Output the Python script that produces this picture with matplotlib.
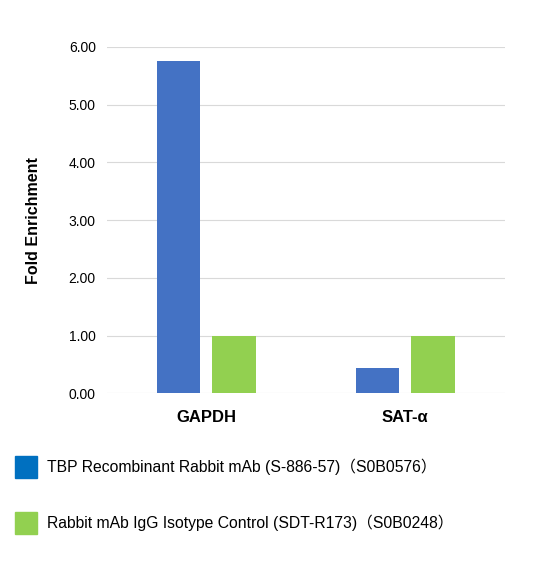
import matplotlib
matplotlib.use('Agg')
import matplotlib.pyplot as plt
from matplotlib.patches import Rectangle

plt.rcParams['font.family'] = ['Liberation Sans', 'Noto Sans CJK SC', 'DejaVu Sans']

categories = ['GAPDH', 'SAT-α']
tbp_values = [5.75, 0.44]
igg_values = [1.0, 1.0]
series_labels = ['TBP Recombinant Rabbit mAb (S-886-57)（S0B0576）',
                 'Rabbit mAb IgG Isotype Control (SDT-R173)（S0B0248）']
yticks = [0, 1, 2, 3, 4, 5, 6]

BLUE = '#4472c4'
GREEN = '#92d050'

fig = plt.figure(figsize=(5.4, 5.65), dpi=100)
ax = fig.add_axes([0.198, 0.304, 0.737, 0.613])

x = list(range(len(categories)))
w = 0.22
ax.bar([i - 0.14 for i in x], tbp_values, width=w, color=BLUE, zorder=3)
ax.bar([i + 0.14 for i in x], igg_values, width=w, color=GREEN, zorder=3)

ax.set_xlim(-0.5, 1.5)
ax.set_ylim(0, 6)
ax.set_yticks(yticks)
ax.set_yticklabels([f'{v:.2f}' for v in yticks], fontsize=10)
ax.set_xticks(x)
ax.set_xticklabels(categories, fontsize=12, fontweight='bold')
ax.tick_params(axis='both', length=0, pad=8)
ax.tick_params(axis='x', pad=12)
ax.grid(axis='y', color='#d9d9d9', linewidth=0.8, zorder=0)
for s in ax.spines.values():
    s.set_visible(False)
ax.set_ylabel('Fold Enrichment', fontsize=11.5, fontweight='bold', labelpad=20)

# legend drawn below the axes
for k, (lab, col) in enumerate(zip(series_labels, [BLUE, GREEN])):
    ytop = 456 + k * 56
    fig.patches.append(Rectangle((15 / 540, 1 - (ytop + 22) / 565), 22 / 540, 22 / 565,
                                 transform=fig.transFigure, color=col if k else '#0070c0'))
    fig.text(47 / 540, 1 - (ytop + 11) / 565, lab, fontsize=11.3, va='center')

fig.savefig('out.png', dpi=100)
